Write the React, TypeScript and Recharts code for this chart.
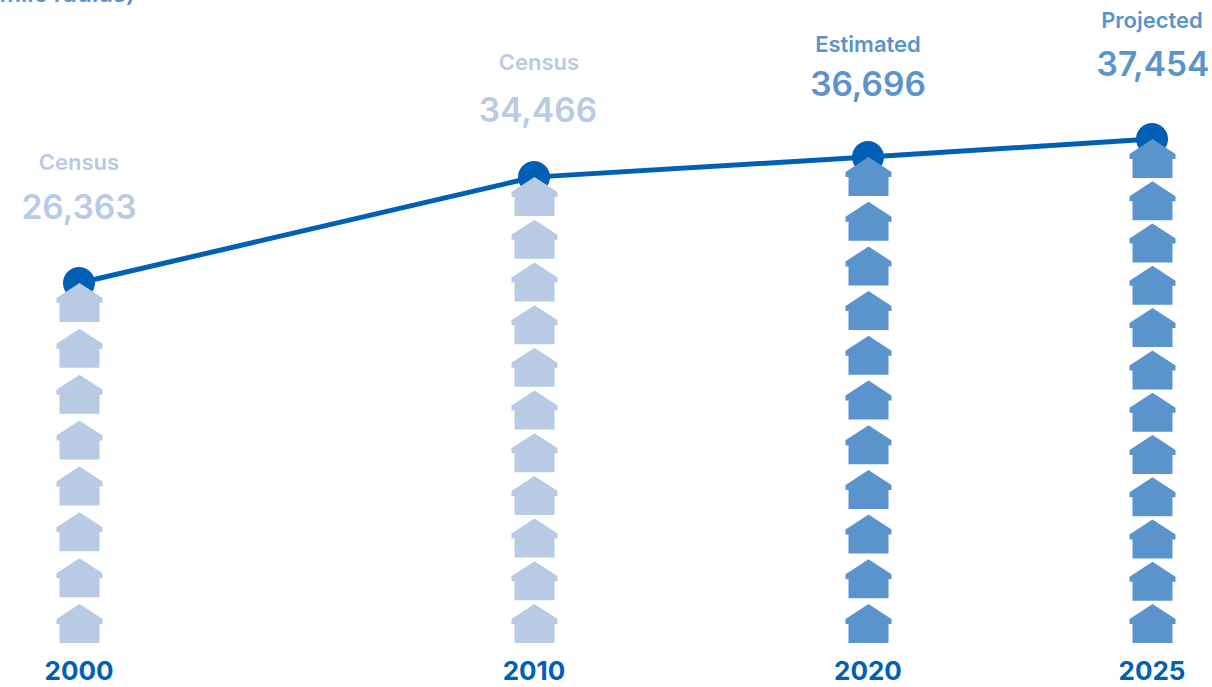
import { ComposedChart, Line, Bar, XAxis, YAxis } from 'recharts';

const years = [2000, 2010, 2020, 2025];
const sources = ['Census', 'Census', 'Estimated', 'Projected'];
const population = [26363, 34466, 36696, 37454];
// where the line actually sits in the picture, it is not quite to scale with the labels
const drawnLevels = [26363, 34520, 36070, 37454];
const houseCounts = [8, 11, 11, 12];
// the year spacing in the original is uneven, so the axis runs on these stops
const axisStops = [0, 455, 789, 1073];

const LIGHT = '#b8cae4';
const MID = '#5b94cd';
const DARK = '#0060b6';
const FONT = 'Inter, "Liberation Sans", Arial, sans-serif';

const Y_FLOOR = -1372;
const Y_CEIL = 48166;

const table = years.map((year, i) => ({
  year,
  stop: axisStops[i],
  source: sources[i],
  population: population[i],
  level: drawnLevels[i],
  houses: houseCounts[i],
  color: year < 2015 ? LIGHT : MID,
}));

// label offsets from the dot: source x, source baseline, value x, value baseline
const labelOffsets = [
  { sx: 0, sy: -113, vx: 0, vy: -64 },
  { sx: 5, sy: -107, vx: 4, vy: -55 },
  { sx: 0, sy: -105, vx: 0, vy: -61 },
  { sx: 0, sy: -111, vx: 1, vy: -63 },
];

const housePath = (cx: number, top: number) =>
  `M${cx} ${top} L${cx + 23} ${top + 15} L${cx + 23} ${top + 20} L${cx + 20} ${top + 20} ` +
  `L${cx + 20} ${top + 39} L${cx - 20} ${top + 39} L${cx - 20} ${top + 20} L${cx - 23} ${top + 20} ` +
  `L${cx - 23} ${top + 15} Z`;

// Stack of houses filling the bar from its top down to the baseline
const HouseStack = (props: any) => {
  const { x, y, width, height, payload } = props;
  const cx = x + width / 2 + 0.5;
  const step = (height - 39) / (payload.houses - 1);
  return (
    <g>
      {Array.from({ length: payload.houses }, (_, i) => (
        <path key={i} d={housePath(cx, y + i * step)} fill={payload.color} />
      ))}
    </g>
  );
};

const PointLabel = (props: any) => {
  const { x, y, index } = props;
  const row = table[index];
  const off = labelOffsets[index];
  return (
    <g fontFamily={FONT} fontWeight={600} textAnchor="middle" fill={row.color}>
      <text x={x + off.sx} y={y + off.sy} fontSize={22}>
        {row.source}
      </text>
      <text x={x + off.vx} y={y + off.vy} fontSize={33.5}>
        {row.population.toLocaleString('en-US')}
      </text>
    </g>
  );
};

export default function App() {
  return (
    <div style={{ position: 'absolute', left: 0, top: 0 }}>
      <ComposedChart
        width={1212}
        height={687}
        data={table}
        margin={{ top: 0, right: 60, bottom: 0, left: 79 }}
      >
        <XAxis
          dataKey="stop"
          type="number"
          domain={[0, 1073]}
          ticks={axisStops}
          tickFormatter={(v: number) => String(years[axisStops.indexOf(v)])}
          height={44}
          axisLine={false}
          tickLine={false}
          tickMargin={13}
          tick={{ fill: DARK, fontSize: 26, fontWeight: 700, fontFamily: FONT }}
        />
        <YAxis hide type="number" domain={[Y_FLOOR, Y_CEIL]} />
        <Line
          dataKey="level"
          stroke={DARK}
          strokeWidth={5}
          dot={{ r: 16, fill: DARK, stroke: 'none' }}
          label={PointLabel}
          isAnimationActive={false}
        />
        <Bar
          dataKey={(d: any) => [Y_FLOOR, d.level]}
          barSize={46}
          shape={HouseStack}
          zIndex={700}
          isAnimationActive={false}
        />
        <text x={135} y={2} textAnchor="end" fontFamily={FONT} fontWeight={600} fontSize={24} fill={MID}>
          mile radius)
        </text>
      </ComposedChart>
    </div>
  );
}
